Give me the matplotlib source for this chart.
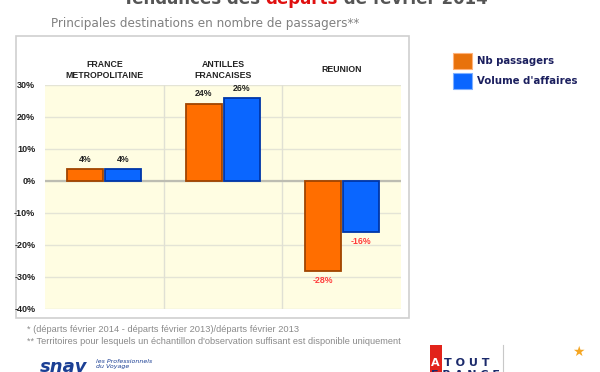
import matplotlib
matplotlib.use("Agg")
import matplotlib.pyplot as plt
import numpy as np
from matplotlib.patches import Rectangle
import matplotlib.transforms as mtransforms

# ---- data ----
categories = ["FRANCE\nMETROPOLITAINE", "ANTILLES\nFRANCAISES", "REUNION"]
nb_passagers = [3.7, 24.2, -28.1]
volume_affaires = [3.6, 25.9, -16.0]
series_names = ["Nb passagers", "Volume d'affaires"]
yticks = [-40, -30, -20, -10, 0, 10, 20, 30]
ytick_labels = [f"{v}%" for v in yticks]

title_parts = ["Tendances des ", "départs", " de février 2014"]
subtitle = "Principales destinations en nombre de passagers**"
footnotes = ["* (départs février 2014 - départs février 2013)/départs février 2013",
             "** Territoires pour lesquels un échantillon d'observation suffisant est disponible uniquement"]

ORANGE = "#FF6E00"
ORANGE_EDGE = "#A04400"
BLUE = "#0A66FF"
BLUE_EDGE = "#0036A8"
NAVY = "#1B1F5E"

W, H = 600, 372
fig = plt.figure(figsize=(6.0, 3.72), dpi=100)
fig.patch.set_facecolor("white")

def fx(px):
    return px / W

def fy(py):
    return 1 - py / H

# outer frame
frame = Rectangle((fx(16), fy(318)), fx(409) - fx(16), fy(36) - fy(318),
                  transform=fig.transFigure, facecolor="none",
                  edgecolor="#CFCFCF", linewidth=1.2, zorder=-5)
fig.patches.append(frame)

ax = fig.add_axes([fx(45), fy(309), fx(401) - fx(45), fy(85) - fy(309)])
ax.set_zorder(2)
ax.set_facecolor("#FFFDE2")
for s in ax.spines.values():
    s.set_visible(False)

x = np.arange(len(categories))
bw = 0.305
gap = 0.008
b1 = ax.bar(x - bw / 2 - gap, nb_passagers, bw, color=ORANGE, edgecolor=ORANGE_EDGE,
            linewidth=1.3, zorder=3, label=series_names[0])
b2 = ax.bar(x + bw / 2 + gap, volume_affaires, bw, color=BLUE, edgecolor=BLUE_EDGE,
            linewidth=1.3, zorder=3, label=series_names[1])

ax.set_xlim(-0.5, len(categories) - 0.5)
ax.set_ylim(-40, 30)
ax.set_yticks(yticks)
ax.set_yticklabels(ytick_labels)
ax.set_xticks([])
ax.tick_params(axis="y", length=0, pad=7, labelsize=6.5, labelcolor="#222222")
for t in ax.get_yticklabels():
    t.set_fontweight("bold")
    t.set_fontfamily("Liberation Sans")

for v in yticks:
    ax.axhline(v, color="#E4E4D6", linewidth=1.0, zorder=1)
ax.axhline(0, color="#BDBDB2", linewidth=1.6, zorder=2)
for sep in np.arange(len(categories) - 1) + 0.5:
    ax.axvline(sep, color="#E0E0D4", linewidth=1.0, zorder=1)

# category labels above plot
trans = mtransforms.blended_transform_factory(ax.transData, ax.transAxes)
for i, c in enumerate(categories):
    ax.text(i, 1.067, c, transform=trans, ha="center", va="center",
            fontsize=6.3, fontweight="bold", color="#222222",
            family="Liberation Sans", linespacing=1.15, clip_on=False)

# value labels
for bars, vals in ((b1, nb_passagers), (b2, volume_affaires)):
    for r, v in zip(bars, vals):
        cx = r.get_x() + r.get_width() / 2
        lab = f"{round(v):d}%"
        if v >= 0:
            ax.annotate(lab, (cx, v), xytext=(0, 4), textcoords="offset points",
                        ha="center", va="bottom", fontsize=6.3, fontweight="bold",
                        color="#222222", family="Liberation Sans")
        else:
            ax.annotate(lab, (cx, v), xytext=(0, -3.5), textcoords="offset points",
                        ha="center", va="top", fontsize=6.3, fontweight="bold",
                        color="#FF3B3B", family="Liberation Sans")

# legend
leg = fig.legend(handles=[b1, b2], labels=series_names, loc="upper left",
                 bbox_to_anchor=(fx(444), fy(44)), frameon=False,
                 handlelength=1.85, handleheight=2.1, handletextpad=0.5,
                 labelspacing=0.35, prop={"family": "DejaVu Sans", "weight": "bold", "size": 7.3})
for t in leg.get_texts():
    t.set_color(NAVY)
for p in leg.get_patches():
    p.set_linewidth(0.8)
leg.get_patches()[0].set_edgecolor("#FFB27A")
leg.get_patches()[0].set_facecolor("#E8720C")
leg.get_patches()[1].set_edgecolor("#7FB0FF")

# subtitle
fig.text(fx(51), fy(23), subtitle, ha="left", va="center", fontsize=8.65,
         color="#808080", family="DejaVu Sans")

# title (cut off at top, as in the source)
fig.canvas.draw()
renderer = fig.canvas.get_renderer()
xpos = fx(123)
colors = ["#555555", "#E01010", "#555555"]
for part, col in zip(title_parts, colors):
    t = fig.text(xpos, fy(3.5), part, ha="left", va="baseline", fontsize=12,
                 fontweight="bold", color=col, family="DejaVu Sans")
    bb = t.get_window_extent(renderer=renderer)
    xpos += bb.width / fig.bbox.width

# footnotes
fig.text(fx(27), fy(329), footnotes[0], ha="left", va="center", fontsize=6.7,
         color="#8A8A8A", family="Liberation Sans")
fig.text(fx(27), fy(341), footnotes[1], ha="left", va="center", fontsize=6.7,
         color="#8A8A8A", family="Liberation Sans")

# logos (approximation)
fig.text(fx(40), fy(372), "snav", ha="left", va="baseline", fontsize=13,
         fontweight="bold", fontstyle="italic", color="#1B3F94", family="DejaVu Sans")
fig.text(fx(96), fy(364), "les Professionnels\ndu Voyage", ha="left", va="center",
         fontsize=4.5, fontstyle="italic", color="#1B3F94", family="DejaVu Sans")
fig.patches.append(Rectangle((fx(430), fy(372)), fx(442) - fx(430), fy(345) - fy(372),
                             transform=fig.transFigure, facecolor="#E2231A",
                             edgecolor="none"))
fig.text(fx(431), fy(366), "A", ha="left", va="baseline", fontsize=8,
         fontweight="bold", color="white", family="DejaVu Sans")
fig.text(fx(444), fy(366), "T O U T", ha="left", va="baseline", fontsize=8,
         fontweight="bold", color="#1B2A6B", family="DejaVu Sans")
fig.text(fx(431), fy(378), "F R A N C E", ha="left", va="baseline", fontsize=8,
         fontweight="bold", color="#1B2A6B", family="DejaVu Sans")
fig.lines.append(plt.Line2D([fx(503), fx(503)], [fy(372), fy(345)],
                            transform=fig.transFigure, color="#C8C8C8", linewidth=0.8))
fig.text(fx(578), fy(352), "★", ha="center", va="center", fontsize=10,
         color="#F5A623", family="DejaVu Sans")

fig.savefig("out.png", dpi=100, facecolor="white")
